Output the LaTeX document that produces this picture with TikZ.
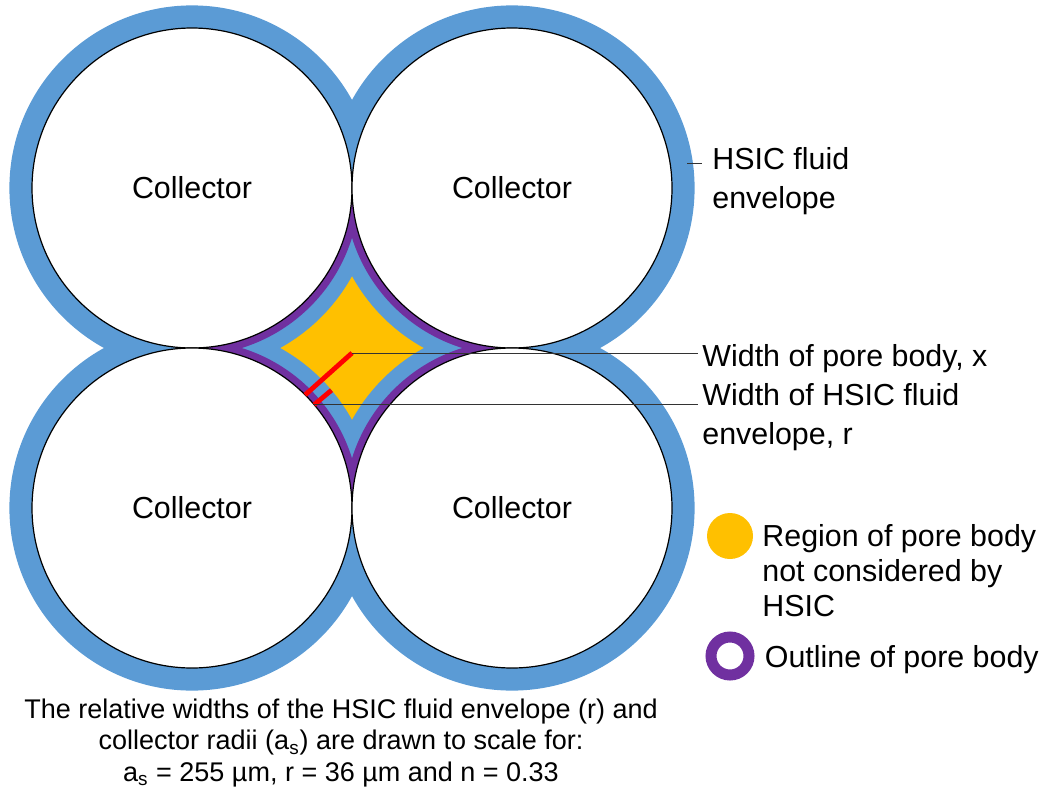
\documentclass[tikz,border=0pt]{standalone}
\usepackage{fontspec}
\setmainfont{Liberation Sans}
\usepackage{xcolor}
\usetikzlibrary{positioning}

\definecolor{envblue}{HTML}{5B9BD5}
\definecolor{poreyellow}{HTML}{FFC000}
\definecolor{porepurple}{HTML}{7030A0}
\definecolor{widthred}{HTML}{FF0000}

\tikzset{
  collector/.style={circle, draw=black, line width=0.6pt, fill=white,
                    minimum size=160pt, inner sep=0pt, font=\fontsize{15.2}{18}\selectfont},
  lbl/.style={align=left, anchor=west, inner xsep=2pt, inner ysep=0pt,
              font=\fontsize{15.2}{19.5}\selectfont},
  keylbl/.style={lbl, font=\fontsize{15.2}{17.5}\selectfont},
  leader/.style={draw=black!80, line width=0.5pt},
  widthbar/.style={draw=widthred, line width=2.4pt},
  keydisk/.style={circle, fill=poreyellow, minimum size=23pt, inner sep=0pt},
  keyring/.style={circle, draw=porepurple, line width=5.5pt, minimum size=19pt, inner sep=0pt},
  note/.style={align=center, inner sep=0pt, font=\fontsize{13.5}{15.8}\selectfont},
}

\begin{document}
\begin{tikzpicture}[x=0.5pt, y=-0.5pt]
  \useasboundingbox (0,0) rectangle (1047,792);

  %% collector centres
  \coordinate (cTL) at (192,188);
  \coordinate (cTR) at (512,188);
  \coordinate (cBL) at (192,508);
  \coordinate (cBR) at (512,508);

  %% pore body, fluid envelope and pore outline
  \fill[poreyellow] (cTL) rectangle (cBR);
  \foreach \c in {cTL,cTR,cBL,cBR}
    \fill[envblue] (\c) circle[radius=91.3pt];
  \begin{scope}
    \clip (cTL) rectangle (cBR);
    \foreach \c in {cTL,cTR,cBL,cBR}
      \draw[porepurple, line width=7.5pt] (\c) circle[radius=80pt];
  \end{scope}

  %% collectors
  \node[collector] (colTL) at (cTL) {Collector};
  \node[collector] (colTR) at (cTR) {Collector};
  \node[collector] (colBL) at (cBL) {Collector};
  \node[collector] (colBR) at (cBR) {Collector};

  %% widths x and r
  \coordinate (poreC) at (352,353);
  \coordinate (wallX) at (305.1,394.9);
  \coordinate (wallR) at (314.2,404.7);
  \coordinate (envR)  at (331.5,390.2);
  \draw[widthbar] (poreC) -- (wallX);
  \draw[widthbar] (wallR) -- (envR);

  %% labels
  \node[lbl] (lblEnv) at (708,181) {HSIC fluid\\envelope};
  \coordinate (envTick) at (687,163);
  \draw[leader] (envTick) -- ([xshift=-3pt]lblEnv.west |- envTick);

  \node[lbl] (lblX) at (698,359) {Width of pore body, x};
  \draw[leader] (poreC) -- (poreC -| lblX.west);

  \node[lbl] (lblR) at (698,417) {Width of HSIC fluid\\envelope, r};
  \draw[leader] (wallR) -- (wallR -| lblR.west);

  %% key
  \node[keydisk] (keyPore) at (730,536) {};
  \node[keylbl] (keyPoreText) at (758,571) {Region of pore body\\not considered by\\HSIC};
  \node[keyring] (keyOutline) at (730,656) {};
  \node[keylbl, right=3pt of keyOutline, yshift=-2pt] (keyOutlineText) {Outline of pore body};

  %% note on scale
  \node[note] (scaleNote) at (341,743) {The relative widths of the HSIC fluid envelope (r) and\\
    collector radii (a\textsubscript{s}) are drawn to scale for:\\
    a\textsubscript{s} = 255 µm, r = 36 µm and n = 0.33};

\end{tikzpicture}
\end{document}
